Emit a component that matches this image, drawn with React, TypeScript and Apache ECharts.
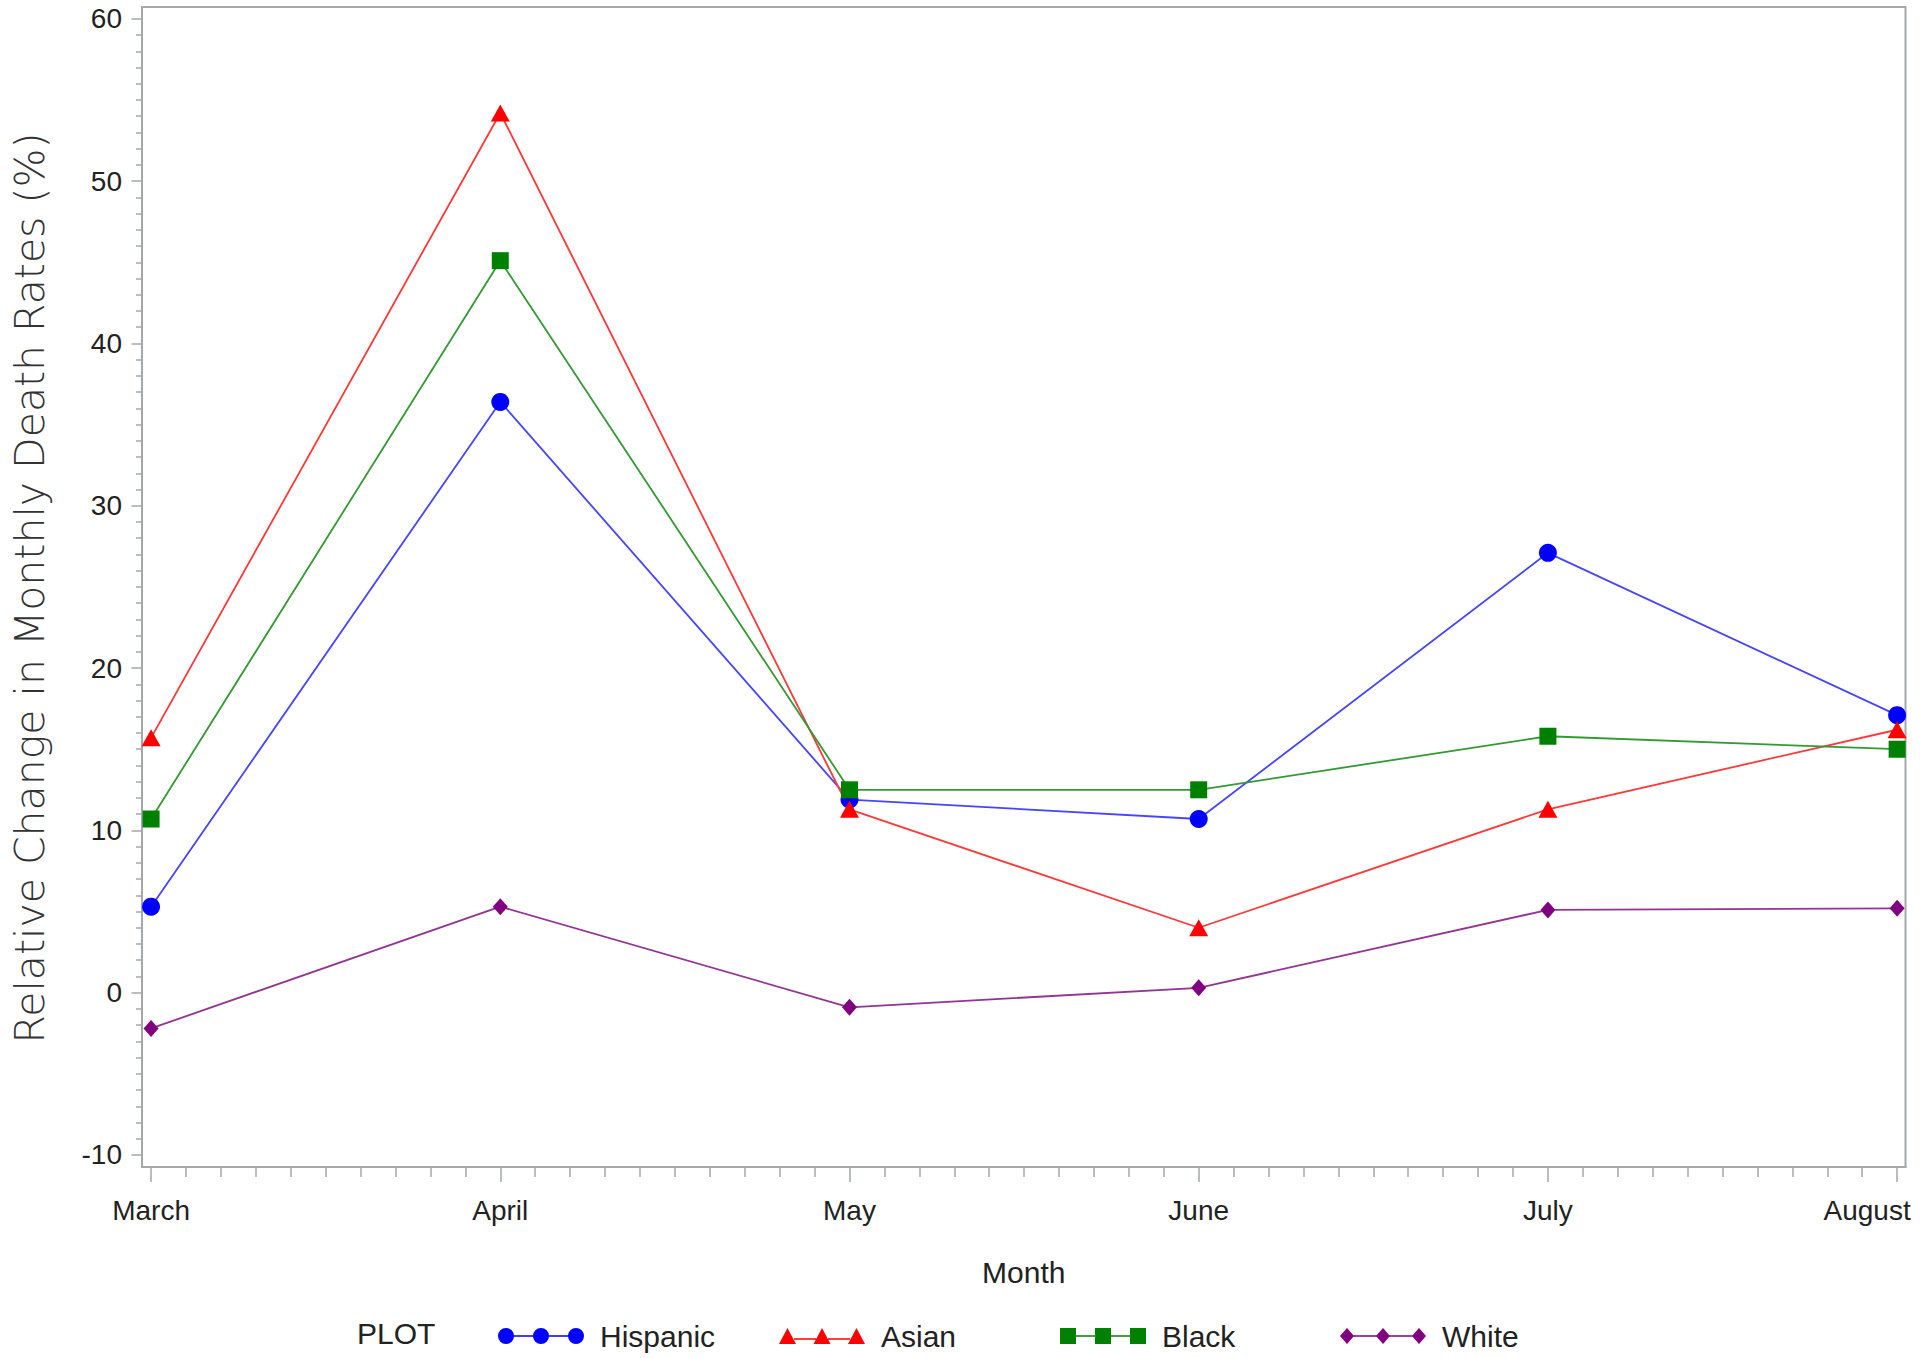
import React, { useEffect, useRef } from "react";
import * as echarts from "echarts";

const months = ["March", "April", "May", "June", "July", "August"];
const hispanic = [5.3, 36.4, 11.9, 10.7, 27.1, 17.1];
const asian = [15.7, 54.2, 11.3, 4.0, 11.3, 16.2];
const black = [10.7, 45.1, 12.5, 12.5, 15.8, 15.0];
const white = [-2.2, 5.3, -0.9, 0.3, 5.1, 5.2];
const yTicks = [-10, 0, 10, 20, 30, 40, 50, 60];
const groups = ["Hispanic", "Asian", "Black", "White"];

const FONT = "'Liberation Sans', Arial, sans-serif";
const AXIS_COLOR = "#A3A7AB";
const TEXT_COLOR = "#222222";

const xMin = -0.026;
const xMax = 5.024;
const yMin = -10.74;
const yMax = 60.73;

const monthIdx = months.map((_, i) => i);
const xMinor: number[] = [];
for (let i = 0; i < months.length - 1; i++) {
  for (let k = 1; k < 10; k++) xMinor.push(Math.round((i + k / 10) * 1000) / 1000);
}
const yMinor: number[] = [];
for (let v = yTicks[0]; v < yTicks[yTicks.length - 1]; v++) {
  if (v % 10 !== 0) yMinor.push(v);
}

const circlePath = (cx: number, cy: number, r: number) =>
  `M${cx - r} ${cy} A${r} ${r} 0 1 1 ${cx + r} ${cy} A${r} ${r} 0 1 1 ${cx - r} ${cy} Z `;
const rectPath = (x0: number, y0: number, x1: number, y1: number) =>
  `M${x0} ${y0} L${x1} ${y0} L${x1} ${y1} L${x0} ${y1} Z `;

const iconHispanic =
  "path://" +
  circlePath(8, 9, 8) +
  circlePath(43, 9, 8) +
  circlePath(78, 9, 8) +
  rectPath(15, 8.2, 36, 9.8) +
  rectPath(50, 8.2, 71, 9.8);
const tri = (cx: number) => `M${cx - 8.5} 17 L${cx} 1 L${cx + 8.5} 17 Z `;
const iconAsian =
  "path://" + tri(8.5) + tri(43) + tri(77.5) + rectPath(15, 11.2, 37, 12.8) + rectPath(49, 11.2, 71, 12.8);
const iconBlack =
  "path://" +
  rectPath(0, 1, 16, 17) +
  rectPath(35, 1, 51, 17) +
  rectPath(70, 1, 86, 17) +
  rectPath(16, 8.2, 35, 9.8) +
  rectPath(51, 8.2, 70, 9.8);
const dia = (cx: number) => `M${cx - 7} 9 L${cx} 1 L${cx + 7} 9 L${cx} 17 Z `;
const iconWhite =
  "path://" + dia(7) + dia(43) + dia(79) + rectPath(13, 8.2, 37, 9.8) + rectPath(49, 8.2, 73, 9.8);
const icons = [iconHispanic, iconAsian, iconBlack, iconWhite];
const legendLefts = [498, 779, 1060, 1340];

export default function App() {
  const ref = useRef<HTMLDivElement>(null);

  useEffect(() => {
    if (!ref.current) return;
    const chart = echarts.init(ref.current, null, { renderer: "svg" });

    const mk = (name: string, vals: number[], color: string, lineColor: string, symbol: string, size: any) => ({
      name,
      type: "line",
      xAxisIndex: 0,
      yAxisIndex: 0,
      data: vals.map((v, i) => [monthIdx[i], v]),
      symbol,
      symbolSize: size,
      showSymbol: true,
      itemStyle: { color },
      lineStyle: { color: lineColor, width: 1.8 },
      emphasis: { disabled: true },
      z: 3,
    });

    const grid = { left: 142, right: 14.5, top: 7, bottom: 191 };

    chart.setOption({
      animation: false,
      backgroundColor: "#ffffff",
      grid: [
        { ...grid, show: true, borderColor: AXIS_COLOR, borderWidth: 2, backgroundColor: "transparent" },
        { ...grid, show: false },
      ],
      xAxis: [
        {
          type: "value",
          gridIndex: 0,
          min: xMin,
          max: xMax,
          position: "bottom",
          name: "Month",
          nameLocation: "middle",
          nameGap: 90,
          nameTextStyle: { fontFamily: FONT, fontSize: 30, color: TEXT_COLOR },
          axisLine: { show: true, onZero: false, lineStyle: { color: AXIS_COLOR, width: 2 } },
          axisTick: { show: true, customValues: monthIdx, length: 15, lineStyle: { color: AXIS_COLOR, width: 1.5 } },
          axisLabel: {
            customValues: monthIdx,
            margin: 29,
            fontFamily: FONT,
            fontSize: 28,
            color: TEXT_COLOR,
            formatter: (v: number) => {
              const i = Math.round(v);
              return i === months.length - 1 ? `{last|${months[i]}}` : months[i];
            },
            rich: {
              last: { fontFamily: FONT, fontSize: 28, color: TEXT_COLOR, padding: [0, 60, 0, 0] },
            },
          },
          splitLine: { show: false },
        },
        {
          type: "value",
          gridIndex: 1,
          min: xMin,
          max: xMax,
          position: "bottom",
          axisLine: { show: false, onZero: false },
          axisTick: { show: true, customValues: xMinor, length: 10, lineStyle: { color: AXIS_COLOR, width: 1.5 } },
          axisLabel: { show: false },
          splitLine: { show: false },
        },
      ],
      yAxis: [
        {
          type: "value",
          gridIndex: 0,
          min: yMin,
          max: yMax,
          position: "left",
          axisLine: { show: true, onZero: false, lineStyle: { color: AXIS_COLOR, width: 2 } },
          axisTick: { show: true, customValues: yTicks, length: 10.5, lineStyle: { color: AXIS_COLOR, width: 1.5 } },
          axisLabel: {
            customValues: yTicks,
            margin: 20,
            fontFamily: FONT,
            fontSize: 28,
            color: TEXT_COLOR,
          },
          splitLine: { show: false },
        },
        {
          type: "value",
          gridIndex: 1,
          min: yMin,
          max: yMax,
          position: "left",
          axisLine: { show: false, onZero: false },
          axisTick: { show: true, customValues: yMinor, length: 6, lineStyle: { color: AXIS_COLOR, width: 1.5 } },
          axisLabel: { show: false },
          splitLine: { show: false },
        },
      ],
      legend: groups.map((g, i) => ({
        left: legendLefts[i],
        top: 1321,
        padding: 0,
        orient: "horizontal",
        itemWidth: 86,
        itemHeight: 18,
        itemGap: 0,
        selectedMode: false,
        textStyle: {
          fontFamily: FONT,
          fontSize: 30,
          color: TEXT_COLOR,
          padding: [0, 0, 0, 11],
        },
        data: [{ name: g, icon: icons[i] }],
      })),
      graphic: [
        {
          type: "text",
          x: 30,
          y: 588,
          rotation: Math.PI / 2,
          style: {
            text: "Relative Change in Monthly Death Rates (%)",
            fontFamily: "'DejaVu Sans', sans-serif",
            fontWeight: 200,
            fontSize: 41,
            fill: "#333333",
            textAlign: "center",
            textVerticalAlign: "middle",
          },
        },
        {
          type: "text",
          x: 357,
          y: 1333,
          style: {
            text: "PLOT",
            fontFamily: FONT,
            fontSize: 30,
            fill: TEXT_COLOR,
            textAlign: "left",
            textVerticalAlign: "middle",
          },
        },
      ],
      series: [
        mk(groups[0], hispanic, "#0000FF", "#4545FF", "circle", 18),
        mk(groups[1], asian, "#FF0000", "#FF3838", "triangle", [19, 17]),
        mk(groups[2], black, "#008000", "#339933", "rect", 17),
        mk(groups[3], white, "#800080", "#933393", "diamond", [15, 17]),
      ],
    });

    return () => chart.dispose();
  }, []);

  return (
    <div
      ref={ref}
      style={{ position: "fixed", left: 0, top: 0, width: 1920, height: 1358, background: "#fff" }}
    />
  );
}
